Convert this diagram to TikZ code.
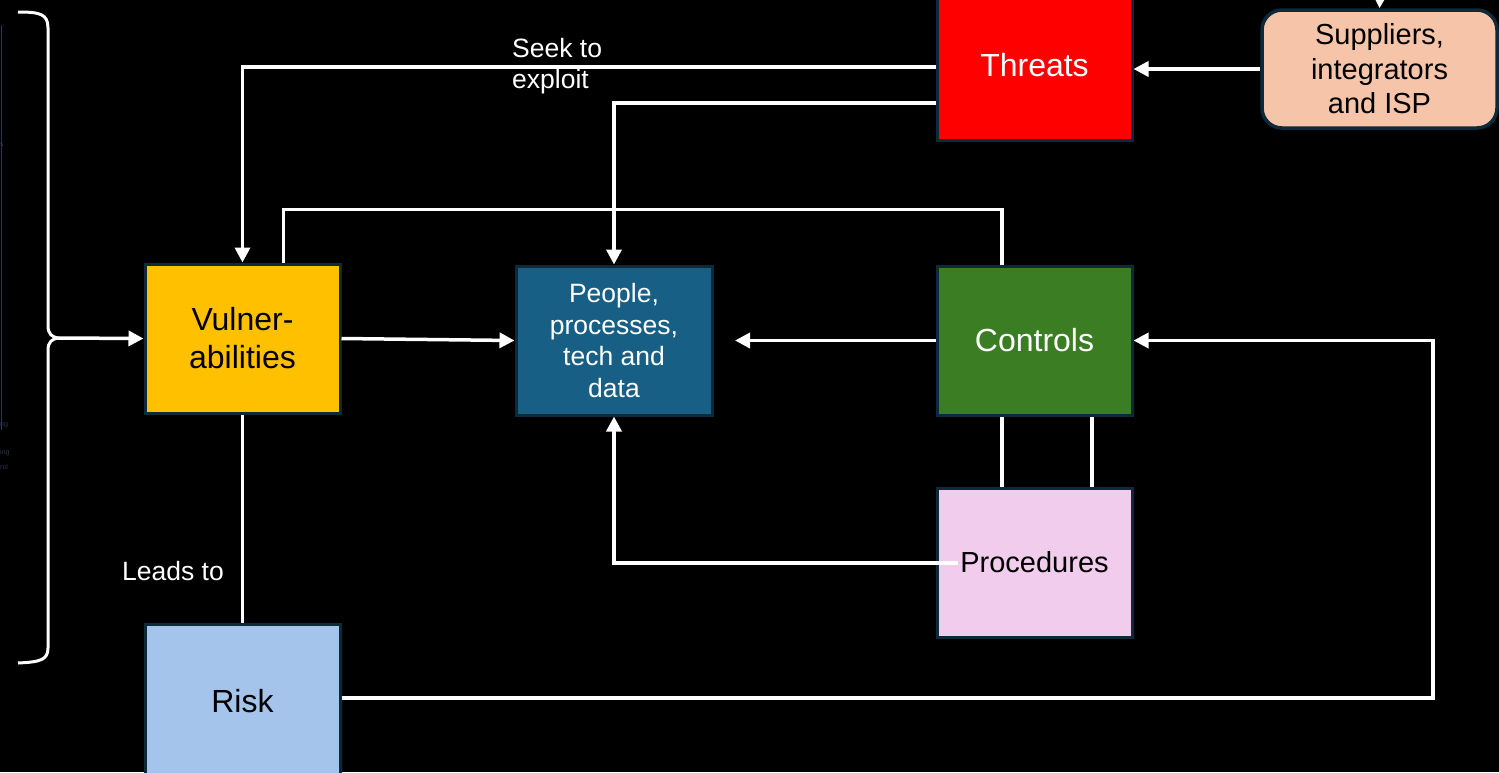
\documentclass[tikz,border=0pt]{standalone}
\usepackage{fontspec}
\setmainfont{Liberation Sans}
\usetikzlibrary{arrows.meta,calc}
\definecolor{bord}{HTML}{0D2A3A}
\definecolor{cvul}{HTML}{FFC000}
\definecolor{cppl}{HTML}{185F85}
\definecolor{cctl}{HTML}{3A7D22}
\definecolor{cproc}{HTML}{F2CCEC}
\definecolor{cthr}{HTML}{FF0000}
\definecolor{csup}{HTML}{F6C5A9}
\definecolor{crisk}{HTML}{A4C4EC}
\definecolor{faint}{HTML}{2A3550}
\tikzset{
  box/.style={draw=bord, line width=3pt, minimum width=195pt, minimum height=149pt, align=center, inner sep=2pt},
  bigtxt/.style={font=\fontsize{32}{38}\selectfont},
  midtxt/.style={font=\fontsize{29}{34.5}\selectfont},
  smalltxt/.style={font=\fontsize{26.5}{31.5}\selectfont},
  conn/.style={draw=white, line width=3.5pt},
  arr/.style={conn, -{Triangle[length=15pt,width=15pt]}},
}
\begin{document}
\begin{tikzpicture}[x=1pt,y=-1pt]
\fill[black] (0,0) rectangle (1499,772);
\useasboundingbox (0,0) rectangle (1499,772);

% faint remnants at the left edge
\draw[faint, line width=1pt] (1,25) -- (1,430);
\node[text=faint, font=\fontsize{7}{8}\selectfont, anchor=west, inner sep=0pt] (f1) at (0,145) {s};
\node[text=faint, font=\fontsize{7}{8}\selectfont, anchor=west, inner sep=0pt] (f2) at (0,425) {ng};
\node[text=faint, font=\fontsize{7}{8}\selectfont, anchor=west, inner sep=0pt] (f3) at (0,453) {ing};
\node[text=faint, font=\fontsize{7}{8}\selectfont, anchor=west, inner sep=0pt] (f4) at (0,467) {rol};

% boxes
\node[box, fill=cvul, text=black, bigtxt] (Vul) at (242.5,338.5) {Vulner-\\abilities};
\node[box, fill=cppl, text=white, smalltxt, minimum width=196pt] (Ppl) at (614,340.5) {People,\\processes,\\tech and\\data};
\node[box, fill=cctl, text=white, bigtxt] (Ctl) at (1034.5,340.5) {Controls};
\node[box, fill=cproc, text=black, midtxt] (Proc) at (1034.5,562.5) {Procedures};
\node[box, fill=cthr, text=white, bigtxt, minimum height=150pt] (Thr) at (1034.5,65) {\raisebox{-2pt}{Threats}};
\node[box, fill=csup, text=black, midtxt, rounded corners=20pt, minimum width=235pt, minimum height=118pt, line width=3.5pt] (Sup) at (1379.5,69) {Suppliers,\\integrators\\and ISP};
\node[box, fill=crisk, text=black, bigtxt, minimum height=156pt] (Risk) at (242.5,702) {\raisebox{2pt}{Risk}};

% helper coordinates
\coordinate (ctltip) at (735,340.5);
\coordinate (procin) at (958,563);
\coordinate (rturn) at (1433,698);
\coordinate (suptop) at (1380,-4);
\coordinate (bracetip) at (58,338);

% brace
\draw[white, line width=3pt]
  (18,12) .. controls (40,12) and (48,14) .. (48,28) -- (48,326)
  .. controls (48,334) and (52,337) .. (bracetip)
  .. controls (52,339) and (48,342) .. (48,350) -- (48,648)
  .. controls (48,660) and (40,662) .. (18,663);

% connectors
\draw[arr] (bracetip) -- (Vul.west);
\draw[arr] ([yshift=-2pt]Thr.west) -| (Vul.north);
\draw[arr] ([yshift=-38pt]Thr.west) -| (Ppl.north);
\draw[conn] ([xshift=41pt]Vul.north) |- ([xshift=-32.5pt,yshift=55pt]Ctl.north) -- ([xshift=-32.5pt]Ctl.north);
\draw[arr] (Vul.east) -- (Ppl.west);
\draw[arr] (Ctl.west) -- (ctltip);
\draw[arr] (procin) -| (Ppl.south);
\draw[conn] ([xshift=-32.5pt]Ctl.south) -- ([xshift=-32.5pt]Proc.north);
\draw[conn] ([xshift=57.5pt]Ctl.south) -- ([xshift=57.5pt]Proc.north);
\draw[conn] (Vul.south) -- (Risk.north);
\draw[arr] (Risk.east |- rturn) -- (rturn) |- (Ctl.east);
\draw[arr] (Sup.west) -- (Sup.west -| Thr.east);
\draw[arr] (suptop) -- (Sup.north);

% labels
\node[text=white, smalltxt, align=left, anchor=west, inner sep=0pt] (seek) at (512,66) {Seek to\\exploit};
\node[text=white, smalltxt, inner sep=0pt] (leads) at (173,571) {Leads to};
\end{tikzpicture}
\end{document}
